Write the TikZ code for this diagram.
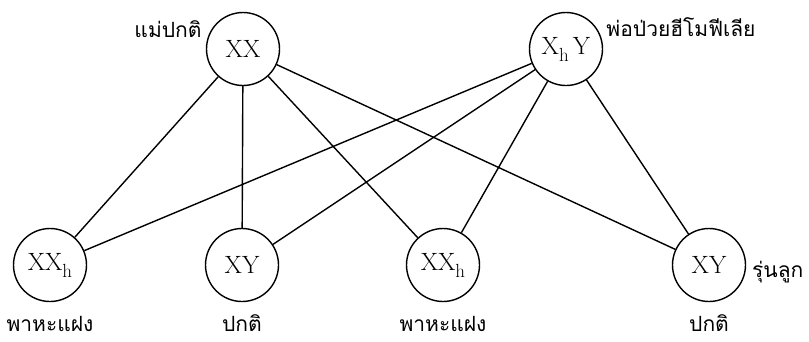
\documentclass[tikz,border=0pt]{standalone}
\usepackage{fontspec}
\newfontfamily\thaifont[Script=Thai]{Loma}
\pgfdeclarelayer{edgelayer}
\pgfdeclarelayer{nodelayer}
\pgfsetlayers{edgelayer,nodelayer,main}
\newcommand{\subh}{\raisebox{-7pt}{\fontsize{19}{19}\selectfont h}}
\tikzstyle{none}=[inner sep=0pt,anchor=base,font=\thaifont\fontsize{21}{21}\selectfont]
\tikzstyle{state}=[circle,fill=white,draw=black,minimum size=73pt,inner sep=0pt,line width=1.4pt,font=\fontsize{25}{25}\selectfont]
\tikzstyle{link}=[draw=black,line width=1.4pt]

\begin{document}
\begin{tikzpicture}[x=1pt,y=-1pt]
	\useasboundingbox (0,0) rectangle (809,341);
	\begin{pgfonlayer}{nodelayer}
		\node [style=state] (0) at (243, 49) {XX};
		\node [style=state] (1) at (566, 49) {X\subh\,Y};
		\node [style=state] (2) at (50, 265) {XX\subh};
		\node [style=state] (3) at (242, 265) {XY};
		\node [style=state] (4) at (443, 265) {XX\subh};
		\node [style=state] (5) at (709, 265) {XY};
		\node [style=none] (6) at (168, 37) {แม่ปกติ};
		\node [style=none] (7) at (681, 36) {พ่อป่วยฮีโมฟีเลีย};
		\node [style=none, anchor=base west] (8) at (752, 277) {รุ่นลูก};
		\node [style=none] (9) at (50, 331) {พาหะแฝง};
		\node [style=none] (10) at (242, 331) {ปกติ};
		\node [style=none] (11) at (443, 331) {พาหะแฝง};
		\node [style=none] (12) at (709, 331) {ปกติ};
	\end{pgfonlayer}
	\begin{pgfonlayer}{edgelayer}
		\draw [style=link] (0) to (2);
		\draw [style=link] (0) to (3);
		\draw [style=link] (0) to (4);
		\draw [style=link] (0) to (5);
		\draw [style=link] (1) to (2);
		\draw [style=link] (1) to (3);
		\draw [style=link] (1) to (4);
		\draw [style=link] (1) to (5);
	\end{pgfonlayer}
\end{tikzpicture}
\end{document}
